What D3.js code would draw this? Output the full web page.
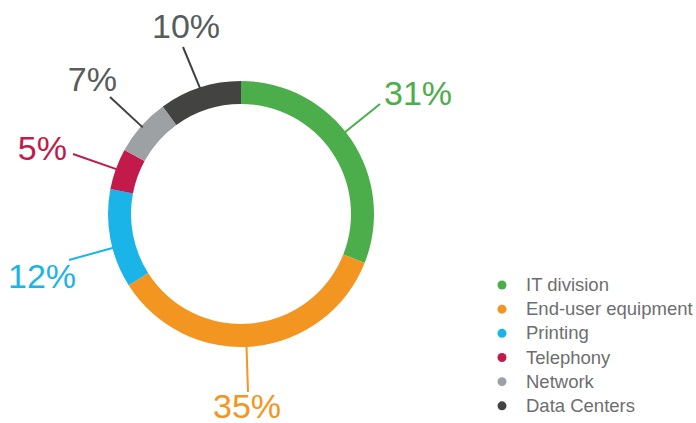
<!DOCTYPE html>
<html>
<head>
<meta charset="utf-8">
<script src="https://cdn.jsdelivr.net/npm/d3@7"></script>
<style>
  html, body { margin: 0; padding: 0; background: #fff; }
  svg { display: block; }
</style>
</head>
<body>
<svg id="chart" width="696" height="423"></svg>
<script>
// Budget split by area, in percent
const categories = ["IT division", "End-user equipment", "Printing", "Telephony", "Network", "Data Centers"];
const shares = [31, 35, 12, 5, 7, 10];
const sliceColors = ["#4cae4a", "#f39521", "#1bb4e9", "#c11a4b", "#9da1a4", "#434342"];
const labelColors = ["#4cae4a", "#f39521", "#1bb4e9", "#c11a4b", "#575c5c", "#575c5c"];
const lineColors = ["#4cae4a", "#f39521", "#1bb4e9", "#c11a4b", "#3f4242", "#3f4242"];

// Callout placement: leader end point, label anchor and alignment, small start-angle nudge (deg)
const callouts = [
  { end: [380, 104], text: [384, 105], anchor: "start", nudge: -4 },
  { end: [248, 392], text: [247, 418], anchor: "middle", nudge: 3 },
  { end: [69, 260], text: [8, 288], anchor: "start", nudge: -4 },
  { end: [73, 154], text: [67, 160], anchor: "end", nudge: 0 },
  { end: [110, 97], text: [117, 91], anchor: "end", nudge: 0 },
  { end: [183, 47], text: [186, 38], anchor: "middle", nudge: 0 }
];

const svg = d3.select("#chart");
const cx = 241, cy = 214, outerR = 133, innerR = 110;

const data = categories.map((c, i) => ({ name: c, value: shares[i], i }));
const pie = d3.pie().value(d => d.value).sort(null);
const arc = d3.arc().innerRadius(innerR).outerRadius(outerR);
const arcs = pie(data);

const ring = svg.append("g").attr("transform", `translate(${cx},${cy})`);
ring.selectAll("path")
  .data(arcs)
  .join("path")
  .attr("d", arc)
  .attr("fill", d => sliceColors[d.data.i]);

// Leader lines from the ring edge out to each percentage
const lines = svg.append("g");
arcs.forEach(a => {
  const co = callouts[a.data.i];
  const ang = (a.startAngle + a.endAngle) / 2 + co.nudge * Math.PI / 180;
  const sx = cx + (outerR - 2) * Math.sin(ang);
  const sy = cy - (outerR - 2) * Math.cos(ang);
  lines.append("line")
    .attr("x1", sx).attr("y1", sy)
    .attr("x2", co.end[0]).attr("y2", co.end[1])
    .attr("stroke", lineColors[a.data.i])
    .attr("stroke-width", 2);
  svg.append("text")
    .attr("x", co.text[0]).attr("y", co.text[1])
    .attr("text-anchor", co.anchor)
    .attr("font-family", "'Liberation Sans', Arial, sans-serif")
    .attr("font-size", 34)
    .attr("fill", labelColors[a.data.i])
    .text(a.data.value + "%");
});

// Legend
const legend = svg.append("g").attr("transform", "translate(502,285)");
const row = d3.scaleBand().domain(categories).range([0, 145]).paddingInner(0);
const item = legend.selectAll("g")
  .data(data)
  .join("g")
  .attr("transform", d => `translate(0,${row(d.name)})`);
item.append("circle")
  .attr("r", 4.5)
  .attr("cy", 0)
  .attr("fill", d => sliceColors[d.i]);
item.append("text")
  .attr("x", 24)
  .attr("y", 6)
  .attr("font-family", "'Liberation Sans', Arial, sans-serif")
  .attr("font-size", 18.5)
  .attr("fill", "#6d6e70")
  .text(d => d.name);
</script>
</body>
</html>
